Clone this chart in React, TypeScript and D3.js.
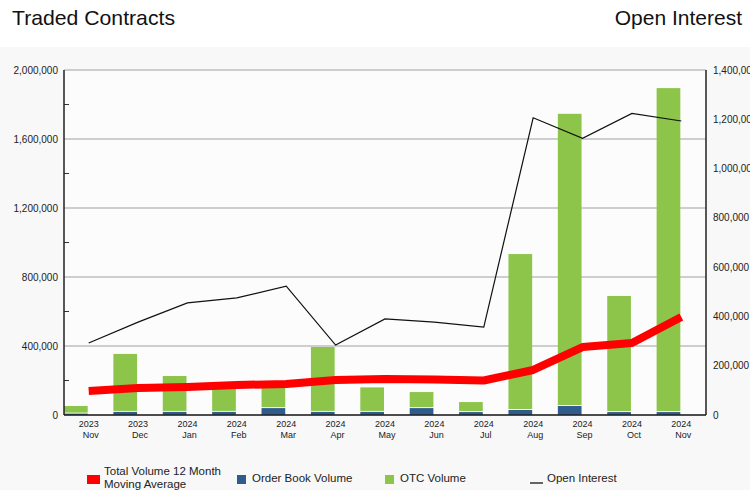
import React from "react";
import * as d3 from "d3";

const years = ["2023", "2023", "2024", "2024", "2024", "2024", "2024", "2024", "2024", "2024", "2024", "2024", "2024"];
const months = ["Nov", "Dec", "Jan", "Feb", "Mar", "Apr", "May", "Jun", "Jul", "Aug", "Sep", "Oct", "Nov"];
const orderBook = [8000, 18000, 18000, 18000, 40000, 18000, 18000, 40000, 17000, 29000, 52000, 17000, 17000];
const otcVolume = [44000, 336000, 208000, 162000, 125000, 376000, 142000, 93000, 58000, 904000, 1694000, 673000, 1878000];
const movingAvg = [139000, 156000, 162000, 174000, 180000, 203000, 209000, 206000, 200000, 261000, 394000, 417000, 568000];
const openInterest = [292000, 377000, 455000, 475000, 523000, 284000, 390000, 377000, 357000, 1206000, 1123000, 1224000, 1193000];
const leftTicks = [0, 400000, 800000, 1200000, 1600000, 2000000];
const leftMinor = [200000, 600000, 1000000, 1400000, 1800000];
const rightTicks = [0, 200000, 400000, 600000, 800000, 1000000, 1200000, 1400000];

const GREEN = "#8cc54a";
const BLUE = "#2f5b8d";
const RED = "#ff0000";
const FONT = "'Liberation Sans', Arial, sans-serif";

export default function App() {
  const left = 64, right = 706, top = 70, bottom = 415;
  const idx = months.map((_, i) => i);
  const x = d3.scaleBand<number>().domain(idx).range([left, right]).paddingInner(0).paddingOuter(0);
  const bw = x.bandwidth();
  const yL = d3.scaleLinear().domain([0, 2000000]).range([bottom, top]);
  const yR = d3.scaleLinear().domain([0, 1400000]).range([bottom, top]);
  const fmt = d3.format(",");
  const cx = (i: number) => (x(i) as number) + bw / 2;

  const maLine = d3.line<number>().x((_, i) => cx(i)).y((d) => yL(d))(movingAvg) || "";
  const oiLine = d3.line<number>().x((_, i) => cx(i)).y((d) => yR(d))(openInterest) || "";

  return (
    <svg width={750} height={490} style={{ position: "absolute", left: 0, top: 0 }} fontFamily={FONT}>
      <rect x={0} y={0} width={750} height={490} fill="#ffffff" />
      <rect x={0} y={47} width={750} height={443} fill="#f8f8f8" />
      <text x={12} y={25} fontSize={21} fill="#111" textLength={163} lengthAdjust="spacingAndGlyphs">Traded Contracts</text>
      <text x={742} y={25} fontSize={21} fill="#111" textAnchor="end">Open Interest</text>

      <rect x={left} y={top} width={right - left} height={bottom - top} fill="#fcfcfc" />
      {leftTicks.map((t) => (
        <line key={"g" + t} x1={left} x2={right} y1={yL(t)} y2={yL(t)} stroke="#a0a0a0" strokeWidth={1} />
      ))}
      {leftMinor.map((t) => (
        <line key={"m" + t} x1={left} x2={left + 5} y1={yL(t)} y2={yL(t)} stroke="#333" strokeWidth={1} />
      ))}

      {idx.map((i) => {
        const x0 = x(i) as number;
        const w = bw * 0.48;
        const obTop = yL(orderBook[i]);
        const totTop = yL(orderBook[i] + otcVolume[i]);
        return (
          <g key={"b" + i}>
            <rect x={x0} y={obTop} width={w} height={bottom - obTop} fill={BLUE} />
            <rect x={x0} y={totTop} width={w} height={Math.max(0, obTop - 1 - totTop)} fill={GREEN} />
          </g>
        );
      })}

      <path d={oiLine} fill="none" stroke="#111" strokeWidth={1.2} />
      <path d={maLine} fill="none" stroke={RED} strokeWidth={8} strokeLinejoin="round" />

      <line x1={left} x2={left} y1={top} y2={bottom} stroke="#222" strokeWidth={1.5} />
      <line x1={right} x2={right} y1={top} y2={bottom} stroke="#222" strokeWidth={1.5} />
      <line x1={left} x2={right} y1={bottom} y2={bottom} stroke="#222" strokeWidth={1.5} />

      {leftTicks.map((t) => (
        <text key={"lt" + t} x={58} y={yL(t) + 3.5} fontSize={10} textAnchor="end" fill="#222">{fmt(t)}</text>
      ))}
      {rightTicks.map((t) => (
        <text key={"rt" + t} x={713} y={yR(t) + 3.5} fontSize={10} textAnchor="start" fill="#222">{fmt(t)}</text>
      ))}
      {idx.map((i) => (
        <g key={"xl" + i}>
          <text x={cx(i)} y={427} fontSize={9} textAnchor="middle" fill="#222">{years[i]}</text>
          <text x={cx(i) + 2} y={438} fontSize={9} textAnchor="middle" fill="#222">{months[i]}</text>
        </g>
      ))}

      <g fontSize={11.5} fill="#222">
        <rect x={87} y={475} width={13} height={9} fill={RED} />
        <text x={104} y={475}>Total Volume 12 Month</text>
        <text x={104} y={488}>Moving Average</text>
        <rect x={237} y={475} width={9} height={9} fill={BLUE} />
        <text x={252} y={482}>Order Book Volume</text>
        <rect x={385} y={475} width={9} height={9} fill={GREEN} />
        <text x={400} y={482}>OTC Volume</text>
        <line x1={530} x2={543} y1={483} y2={483} stroke="#333" strokeWidth={1.5} />
        <text x={547} y={482}>Open Interest</text>
      </g>
    </svg>
  );
}
